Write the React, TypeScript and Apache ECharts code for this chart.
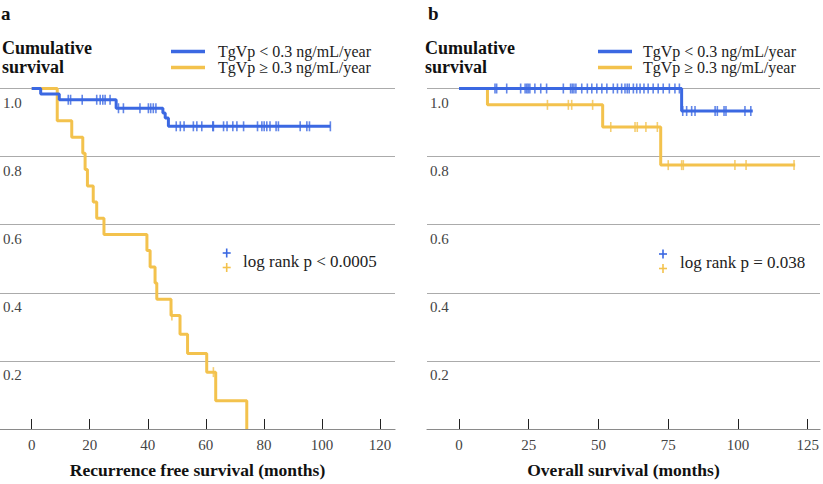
import React, { useEffect, useRef } from "react";
import * as echarts from "echarts";

// Panel a: Recurrence free survival
const rfsLowTimes = [0, 3.1, 9.5, 29.1, 45.2, 46.0, 47.1, 102.9];
const rfsLowSurv = [1.0, 0.984, 0.967, 0.942, 0.928, 0.913, 0.889, 0.889];
const rfsLowCensor = [12.6, 13.4, 17.4, 22.4, 23.6, 24.5, 25.3, 27.0, 29.9, 31.6, 37.3, 40.2, 41.0, 41.9, 42.8, 49.8, 51.2, 52.5, 55.7, 56.9, 58.6, 62.4, 62.6, 66.1, 67.3, 69.3, 70.7, 73.0, 77.8, 79.3, 80.1, 81.0, 82.1, 84.2, 85.0, 92.5, 94.8, 95.7, 102.9];

const rfsHighTimes = [0, 8.8, 13.8, 17.6, 18.4, 19.2, 21.2, 22.4, 24.9, 39.7, 40.8, 42.5, 43.1, 48.0, 51.1, 53.7, 60.3, 63.4, 74.1];
const rfsHighSurv = [1.0, 0.905, 0.857, 0.81, 0.762, 0.714, 0.667, 0.619, 0.571, 0.524, 0.476, 0.429, 0.381, 0.333, 0.278, 0.222, 0.167, 0.083, 0];
const rfsHighCensor = [48.3, 62.6];

// Panel b: Overall survival
const osLowTimes = [0, 79.8, 105.3];
const osLowSurv = [1.0, 0.934, 0.934];
const osLowCensor = [12.9, 13.5, 17.1, 22.1, 23.7, 24.3, 24.8, 25.4, 27.2, 29.3, 31.4, 37.4, 40.0, 40.6, 41.2, 41.9, 44.0, 46.0, 47.6, 49.4, 51.2, 53.0, 55.3, 56.8, 58.3, 59.5, 60.3, 61.0, 62.5, 63.7, 64.9, 66.3, 67.8, 69.6, 71.4, 73.2, 75.4, 77.4, 79.0, 80.2, 81.6, 83.4, 84.6, 91.8, 92.6, 95.0, 95.7, 102.5, 104.6];

const osHighTimes = [0, 10.2, 51.5, 72.3, 120.5];
const osHighSurv = [1.0, 0.952, 0.887, 0.775, 0.775];
const osHighCensor = [31.7, 39.2, 40.4, 47.9, 54.4, 63.1, 63.9, 67.0, 71.1, 75.0, 79.8, 80.4, 98.9, 102.9, 120.1];

const rfsTicks = [0, 20, 40, 60, 80, 100, 120];
const osTicks = [0, 25, 50, 75, 100, 125];
const yLabels = [0.2, 0.4, 0.6, 0.8, 1.0];

const legendLow = "TgVp < 0.3 ng/mL/year";
const legendHigh = "TgVp \u2265 0.3 ng/mL/year";

const BLUE = "#3b68e2";
const YELLOW = "#f3c24d";
const FONT = "Liberation Serif, serif";

function survAt(times: number[], surv: number[], t: number) {
  let v = surv[0];
  for (let i = 0; i < times.length; i++) if (times[i] <= t) v = surv[i];
  return v;
}

function kmLine(times: number[], surv: number[], color: string, idx: number) {
  return {
    type: "line",
    xAxisIndex: idx,
    yAxisIndex: idx,
    step: "end",
    symbol: "none",
    data: times.map((t, i) => [t, surv[i]]),
    lineStyle: { color, width: 3 },
    silent: true,
  };
}

function kmCensor(times: number[], surv: number[], cens: number[], color: string, idx: number) {
  return {
    type: "scatter",
    xAxisIndex: idx,
    yAxisIndex: idx,
    symbol: "rect",
    symbolSize: [1.6, 10],
    itemStyle: { color },
    data: cens.map((t) => [t, survAt(times, surv, t)]),
    silent: true,
  };
}

function xAxis(idx: number, min: number, max: number, ticks: number[], name: string) {
  return {
    type: "value",
    gridIndex: idx,
    min,
    max,
    name,
    nameLocation: "middle",
    nameGap: 32,
    nameTextStyle: { fontFamily: FONT, fontSize: 17.5, fontWeight: 700, color: "#111" },
    axisLine: { show: true, lineStyle: { color: "#8a8a8a", width: 1.2 } },
    axisTick: { show: true, inside: true, length: 10, customValues: ticks, lineStyle: { color: "#222", width: 1 } },
    axisLabel: { customValues: ticks, fontFamily: FONT, fontSize: 15, color: "#444", margin: 8 },
    splitLine: { show: false },
  };
}

function yAxis(idx: number) {
  return {
    type: "value",
    gridIndex: idx,
    min: 0,
    max: 1,
    interval: 0.2,
    axisLine: { show: false },
    axisTick: { show: false },
    axisLabel: {
      inside: true,
      customValues: yLabels,
      formatter: (v: number) => v.toFixed(1),
      fontFamily: FONT,
      fontSize: 15,
      color: "#444",
      align: "left",
      verticalAlign: "top",
      padding: [7, 0, 0, 0],
      margin: 3,
    },
    splitLine: { show: true, lineStyle: { color: "#ababab", width: 1 } },
  };
}

function legendGraphics(lineX: number, textX: number) {
  const items: any[] = [];
  [
    [legendLow, BLUE, 51.5],
    [legendHigh, YELLOW, 67.5],
  ].forEach(([label, color, y]: any) => {
    items.push({ type: "line", shape: { x1: lineX, y1: y, x2: lineX + 34, y2: y }, style: { stroke: color, lineWidth: 3.5 } });
    items.push({
      type: "text",
      x: textX,
      y,
      style: { text: label, fontFamily: FONT, fontSize: 16, fill: "#222", verticalAlign: "middle", align: "left" },
    });
  });
  return items;
}

function cross(x: number, y: number, color: string) {
  return [
    { type: "line", shape: { x1: x - 4, y1: y, x2: x + 4, y2: y }, style: { stroke: color, lineWidth: 1.6 } },
    { type: "line", shape: { x1: x, y1: y - 4.5, x2: x, y2: y + 4.5 }, style: { stroke: color, lineWidth: 1.6 } },
  ];
}

function titleText(text: string, x: number, y: number, size: number) {
  return {
    type: "text",
    x,
    y,
    style: { text, fontFamily: FONT, fontSize: size, fontWeight: 700, fill: "#111", verticalAlign: "middle", align: "left" },
  };
}

export default function App() {
  const ref = useRef<HTMLDivElement>(null);
  useEffect(() => {
    if (!ref.current) return;
    const chart = echarts.init(ref.current, undefined, { renderer: "svg" });
    chart.setOption({
      animation: false,
      backgroundColor: "#ffffff",
      grid: [
        { left: 0, right: 823 - 395, top: 88.5, bottom: 51.5 },
        { left: 427, right: 3, top: 88.5, bottom: 51.5 },
      ],
      xAxis: [
        xAxis(0, -10.92, 125.17, rfsTicks, "Recurrence free survival (months)"),
        xAxis(1, -11.47, 129.4, osTicks, "Overall survival (months)"),
      ],
      yAxis: [yAxis(0), yAxis(1)],
      series: [
        kmLine(rfsHighTimes, rfsHighSurv, YELLOW, 0),
        kmCensor(rfsHighTimes, rfsHighSurv, rfsHighCensor, YELLOW, 0),
        kmLine(rfsLowTimes, rfsLowSurv, BLUE, 0),
        kmCensor(rfsLowTimes, rfsLowSurv, rfsLowCensor, BLUE, 0),
        kmLine(osHighTimes, osHighSurv, YELLOW, 1),
        kmCensor(osHighTimes, osHighSurv, osHighCensor, YELLOW, 1),
        kmLine(osLowTimes, osLowSurv, BLUE, 1),
        kmCensor(osLowTimes, osLowSurv, osLowCensor, BLUE, 1),
      ],
      graphic: [
        titleText("a", 1, 13, 19),
        titleText("b", 428, 13, 19),
        titleText("Cumulative", 2, 48, 18),
        titleText("survival", 2, 67, 18),
        titleText("Cumulative", 425, 48, 18),
        titleText("survival", 425, 67, 18),
        ...legendGraphics(171, 218),
        ...legendGraphics(598, 643),
        ...cross(226.7, 253, BLUE),
        ...cross(226.7, 267.5, YELLOW),
        { type: "text", x: 243, y: 261.5, style: { text: "log rank p < 0.0005", fontFamily: FONT, fontSize: 17, fill: "#222", verticalAlign: "middle" } },
        ...cross(663, 254, BLUE),
        ...cross(663, 268.5, YELLOW),
        { type: "text", x: 680, y: 262, style: { text: "log rank p = 0.038", fontFamily: FONT, fontSize: 17, fill: "#222", verticalAlign: "middle" } },
      ],
    });
    return () => chart.dispose();
  }, []);
  return <div ref={ref} style={{ position: "fixed", left: 0, top: 0, width: 823, height: 484 }} />;
}
